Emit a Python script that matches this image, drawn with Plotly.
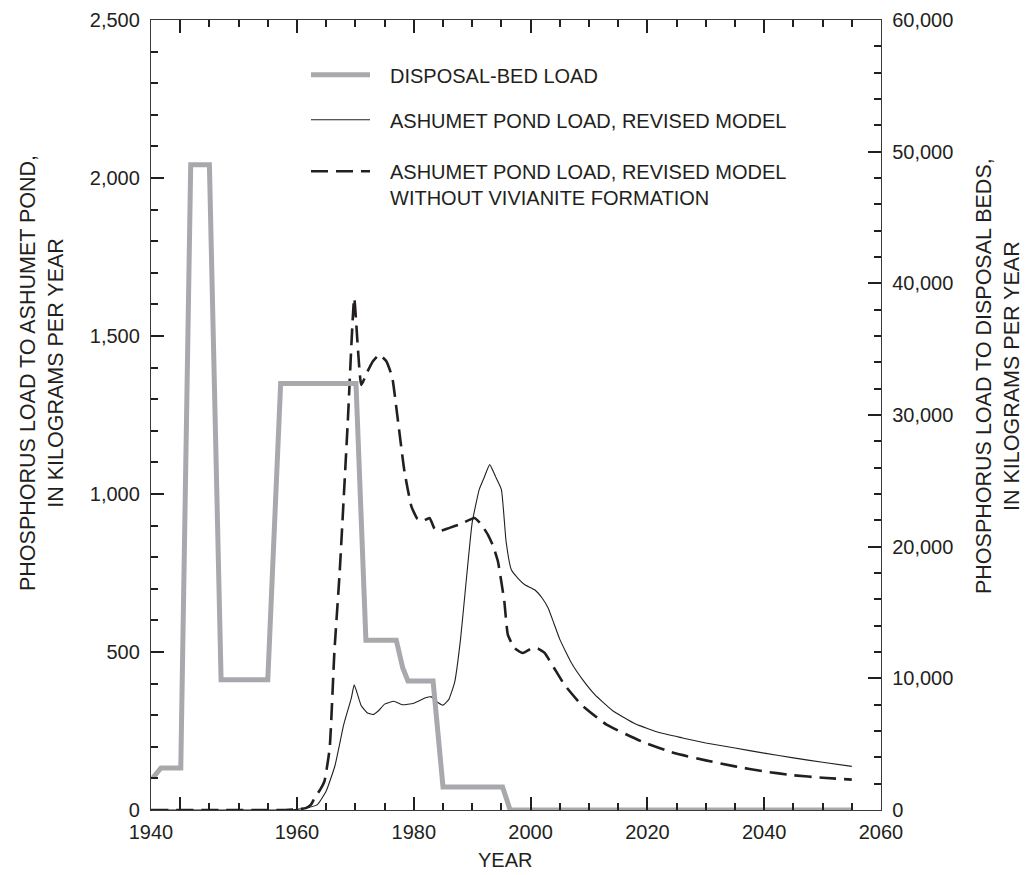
import plotly.graph_objects as go

# ---------------- data ----------------
bed_years = [1935.3, 1936.7, 1940.1, 1941.8, 1945.0, 1947.0, 1955.0, 1957.2, 1970.1, 1971.8,
             1977.0, 1978.1, 1979.0, 1983.3, 1985.0, 1995.2, 1996.5, 2055.0]
bed_load = [2430, 3190, 3190, 49000, 49000, 9900, 9900, 32400, 32400, 12900,
            12900, 10800, 9800, 9800, 1750, 1750, 0, 0]

rev_years = [1935, 1958, 1960, 1962, 1963.5, 1965, 1966.5, 1968, 1969.3, 1969.8,
             1971, 1972, 1973, 1974, 1975, 1976.6, 1978, 1980, 1982, 1983,
             1984, 1985, 1986, 1987, 1988, 1989, 1990, 1991.2, 1992, 1993,
             1994, 1995, 1995.8, 1996.7, 1998, 1999, 2000.7, 2002, 2003, 2004,
             2005, 2007, 2009, 2011, 2014, 2018, 2022, 2026, 2030, 2035,
             2040, 2045, 2050, 2055]
rev_load = [0, 0, 2, 8, 17, 60, 140, 270, 354, 396,
            330, 308, 302, 315, 335, 344, 333, 338, 355, 358,
            342, 332, 350, 405, 540, 730, 910, 1014, 1050, 1093,
            1055, 1014, 850, 760, 730, 713, 697, 670, 639, 590,
            540, 465, 410, 365, 315, 272, 245, 228, 212, 196,
            180, 165, 151, 138]

nv_years = [1935, 1958, 1960, 1961.5, 1962.4, 1963, 1964, 1964.7, 1965.6, 1966.4,
            1967.3, 1968.7, 1969.8, 1971, 1972, 1973, 1974.1, 1975.3, 1976.3, 1977.3,
            1978.4, 1979.6, 1980.6, 1981.5, 1982.7, 1983.5, 1984.2, 1986, 1988, 1990.4,
            1991.5, 1992.7, 1993.6, 1994.4, 1995.5, 1996.1, 1997.2, 1998.7, 2000.3, 2001.3,
            2002.4, 2004, 2005.8, 2008.7, 2013, 2019, 2024.6, 2030, 2035, 2040,
            2045, 2050, 2055]
nv_load = [0, 0, 2, 6, 17, 38, 65, 91, 196, 500,
           750, 1230, 1620, 1345, 1385, 1420, 1441, 1420, 1370, 1230,
           1071, 960, 922, 914, 924, 892, 882, 892, 905, 924,
           905, 871, 835, 787, 660, 555, 513, 497, 513, 510,
           497, 450, 396, 333, 270, 217, 180, 157, 138, 122,
           110, 102, 96]

x_tick_vals = [1935, 1940, 1960, 1980, 2000, 2020, 2040, 2060]
x_tick_text = ["1940", "", "1960", "1980", "2000", "2020", "2040", "2060"]
top_tick_vals = [1940, 1960, 1980, 2000, 2020, 2040]
left_tick_vals = [0, 500, 1000, 1500, 2000, 2500]
left_tick_text = ["0", "500", "1,000", "1,500", "2,000", "2,500"]
right_tick_vals = [0, 10000, 20000, 30000, 40000, 50000, 60000]
right_tick_text = ["0", "10,000", "20,000", "30,000", "40,000", "50,000", "60,000"]

legend_labels = ["DISPOSAL-BED LOAD",
                 "ASHUMET POND LOAD, REVISED MODEL",
                 "ASHUMET POND LOAD, REVISED MODEL<br>WITHOUT VIVIANITE FORMATION"]

# ---------------- style ----------------
INK = "#231f20"
GREY = "#a7a9ac"
FONT = "Liberation Sans, Arial, sans-serif"
DASH = "17px,8px"

W, H = 1028, 875
L, R, T, B = 143, 155, 12, 73
pw, ph = W - L - R, H - T - B


def px(xp):
    return (xp - L) / pw


def py(yp):
    return (H - B - yp) / ph


fig = go.Figure()

fig.add_trace(go.Scatter(x=bed_years, y=bed_load, mode="lines", xaxis="x2", yaxis="y2",
                         line=dict(color=GREY, width=5), showlegend=False,
                         name=legend_labels[0]))
fig.add_trace(go.Scatter(x=rev_years, y=rev_load, mode="lines",
                         line=dict(color=INK, width=1.1, shape="spline", smoothing=0.4),
                         showlegend=False, name=legend_labels[1]))
fig.add_trace(go.Scatter(x=nv_years, y=nv_load, mode="lines",
                         line=dict(color=INK, width=2.6, dash=DASH, shape="spline", smoothing=0.4),
                         showlegend=False, name=legend_labels[2]))

# legend drawn by hand
leg_rows = [66.7, 111.7, 163.3]
leg_styles = [dict(color=GREY, width=5), dict(color=INK, width=1.1),
              dict(color=INK, width=2.6, dash=DASH)]
for yy, st in zip(leg_rows, leg_styles):
    fig.add_shape(type="line", xref="paper", yref="paper",
                  x0=px(303), x1=px(362), y0=py(yy), y1=py(yy), line=st)
for yy, txt in zip(leg_rows, legend_labels):
    fig.add_annotation(xref="paper", yref="paper", x=px(380), y=py(yy - 12),
                       xanchor="left", yanchor="top", align="left", showarrow=False,
                       text=txt, font=dict(family=FONT, size=20, color=INK))

# axis titles
fig.add_annotation(xref="paper", yref="paper", x=px(34), y=py(365), textangle=-90,
                   xanchor="center", yanchor="middle", showarrow=False,
                   text="PHOSPHORUS LOAD TO ASHUMET POND,<br>IN KILOGRAMS PER YEAR",
                   font=dict(family=FONT, size=21.5, color=INK))
fig.add_annotation(xref="paper", yref="paper", x=px(990), y=py(368), textangle=-90,
                   xanchor="center", yanchor="middle", showarrow=False,
                   text="PHOSPHORUS LOAD TO DISPOSAL BEDS,<br>IN KILOGRAMS PER YEAR",
                   font=dict(family=FONT, size=21.5, color=INK))
fig.add_annotation(xref="paper", yref="paper", x=px(497), y=py(852),
                   xanchor="center", yanchor="middle", showarrow=False,
                   text="YEAR", font=dict(family=FONT, size=20, color=INK))

axis_common = dict(showgrid=False, zeroline=False, showline=True, linecolor="#3a3a3a",
                   linewidth=1.3, ticks="inside", tickcolor=INK, tickwidth=1.5,
                   tickfont=dict(family=FONT, size=20, color=INK))
minor_common = dict(ticklen=7, ticks="inside", tickcolor=INK, tickwidth=1.5)

fig.update_layout(
    width=W, height=H, margin=dict(l=L, r=R, t=T, b=B, autoexpand=False),
    paper_bgcolor="white", plot_bgcolor="white", showlegend=False,
    xaxis=dict(range=[1935, 2060], tickmode="array", tickvals=x_tick_vals, ticktext=x_tick_text,
               ticklen=13, ticklabelstandoff=4, mirror="ticks",
               minor=dict(tick0=1935, dtick=5, **minor_common), **axis_common),
    xaxis2=dict(range=[1935, 2060], overlaying="x", side="top", anchor="y2", tickmode="array",
                tickvals=top_tick_vals, ticklen=13, showticklabels=False,
                minor=dict(tick0=1935, dtick=5, **minor_common), **axis_common),
    yaxis=dict(range=[0, 2500], tickmode="array", tickvals=left_tick_vals, ticktext=left_tick_text,
               ticklen=13, ticklabelstandoff=6,
               minor=dict(tick0=0, dtick=100, **minor_common), **axis_common),
    yaxis2=dict(range=[0, 60000], overlaying="y", side="right", anchor="x2", tickmode="array",
                tickvals=right_tick_vals, ticktext=right_tick_text, ticklen=13, ticklabelstandoff=6,
                minor=dict(tick0=0, dtick=2000, **minor_common), **axis_common),
)

fig.write_html("out.html")
